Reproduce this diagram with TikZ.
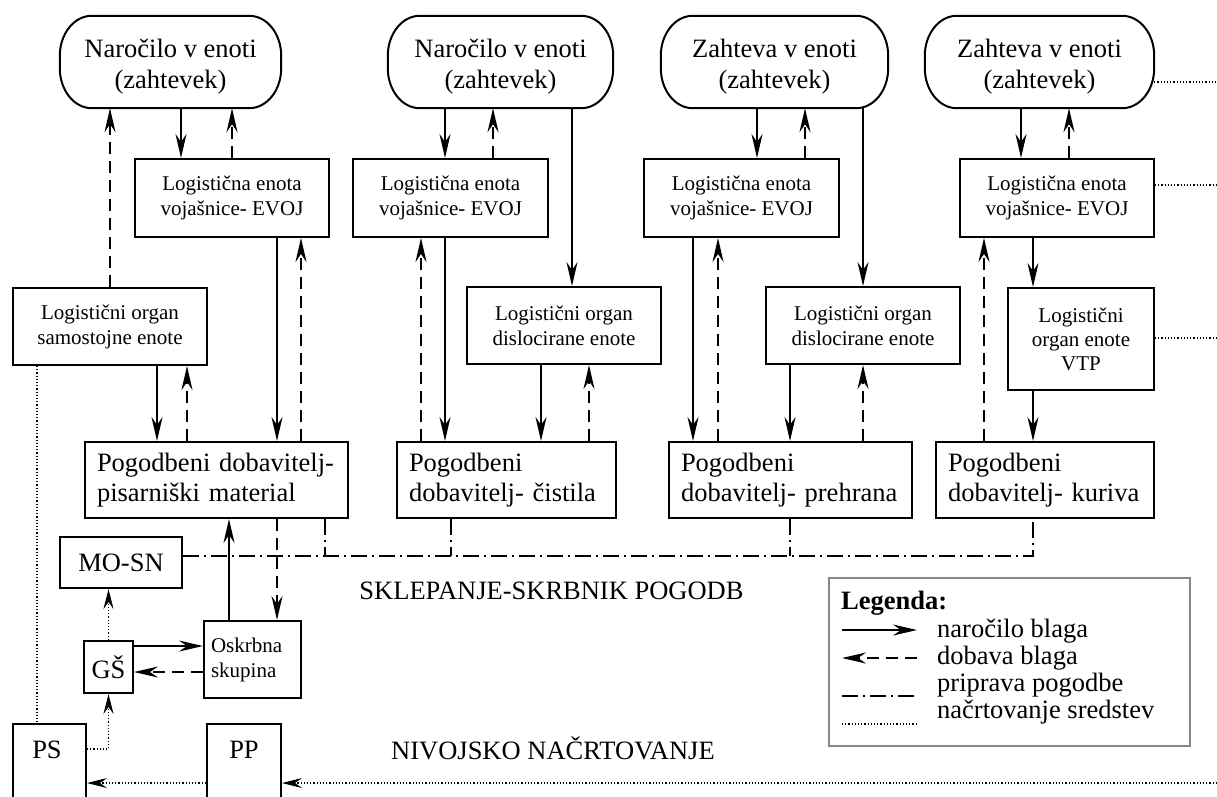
\documentclass[tikz,border=0pt]{standalone}
\usepackage{fontspec}
\setmainfont{Liberation Serif}
\usetikzlibrary{arrows.meta}
\newcommand{\termtext}[2]{\raisebox{-5pt}[\height][\depth]{\begin{tabular}{@{}c@{}}#1\\#2\end{tabular}}}
\begin{document}
\begin{tikzpicture}[x=1pt,y=-1pt,
  box/.style={draw, line width=2pt, inner sep=0pt, align=center},
  term/.style={inner sep=0pt},
  big/.style={font=\fontsize{26.5pt}{31pt}\selectfont},
  small/.style={font=\fontsize{21pt}{25pt}\selectfont},
  order/.style={line width=2pt, -{Stealth[length=24pt,width=11pt,inset=8pt]}},
  supply/.style={line width=2.2pt, dash pattern=on 12pt off 7pt, -{Stealth[length=24pt,width=11pt,inset=8pt]}},
  plan/.style={line width=1.8pt, dash pattern=on 16pt off 5pt on 2pt off 5pt},
  dots/.style={line width=1.1pt, dash pattern=on 1.2pt off 2pt},
  dotarrow/.style={dots, -{Stealth[length=20pt,width=10pt,inset=7pt]}},
]
\path[use as bounding box, fill=white] (0,0) rectangle (1217,796);
\clip (0,0) rectangle (1217,796);

% terminals
\node[term, big, minimum width=221pt, minimum height=92pt] (T1) at (170.5,62) {\termtext{Naročilo v enoti}{(zahtevek)}};
\node[term, big, minimum width=225pt, minimum height=92pt] (T2) at (500.5,62) {\termtext{Naročilo v enoti}{(zahtevek)}};
\node[term, big, minimum width=227pt, minimum height=92pt] (T3) at (774.5,62) {\termtext{Zahteva v enoti}{(zahtevek)}};
\node[term, big, minimum width=229pt, minimum height=92pt] (T4) at (1039.5,62) {\termtext{Zahteva v enoti}{(zahtevek)}};
\foreach \n in {T1,T2,T3,T4}{
  \draw[line width=2pt] ([xshift=32pt]\n.north west) -- ([xshift=-32pt]\n.north east)
    arc[start angle=90,end angle=0,x radius=32pt,y radius=40pt]
    -- ([yshift=40pt]\n.south east)
    arc[start angle=0,end angle=-90,x radius=32pt,y radius=40pt]
    -- ([xshift=32pt]\n.south west)
    arc[start angle=-90,end angle=-180,x radius=32pt,y radius=40pt]
    -- ([yshift=-40pt]\n.north west)
    arc[start angle=180,end angle=90,x radius=32pt,y radius=40pt] -- cycle;
}

% EVOJ boxes
\node[box, small, minimum width=194pt, minimum height=78pt] (E1) at (232,198) {Logistična enota\\vojašnice- EVOJ};
\node[box, small, minimum width=195pt, minimum height=78pt] (E2) at (450.5,198) {Logistična enota\\vojašnice- EVOJ};
\node[box, small, minimum width=195pt, minimum height=78pt] (E3) at (741.5,198) {Logistična enota\\vojašnice- EVOJ};
\node[box, small, minimum width=194pt, minimum height=78pt] (E4) at (1057,198) {Logistična enota\\vojašnice- EVOJ};

% organ boxes
\node[box, small, minimum width=194pt, minimum height=77pt] (S1) at (110,326.5) {Logistični organ\\samostojne enote};
\node[box, small, minimum width=194pt, minimum height=77pt] (D1) at (564,325.5) {Logistični organ\\dislocirane enote};
\node[box, small, minimum width=194pt, minimum height=77pt] (D2) at (863,325.5) {Logistični organ\\dislocirane enote};
\node[box, small, minimum width=146pt, minimum height=102pt, font=\fontsize{21pt}{24pt}\selectfont] (VTP) at (1081,339) {Logistični\\organ enote\\VTP};

% supplier boxes
\node[box, big, align=left, text width=239pt, inner xsep=12pt, minimum height=76pt, font=\fontsize{26.5pt}{30pt}\selectfont] (P1) at (216.5,480) {Pogodbeni dobavitelj-\\pisarniški material};
\node[box, big, align=left, text width=195pt, inner xsep=12pt, minimum height=76pt, font=\fontsize{26.5pt}{30pt}\selectfont] (P2) at (506.5,480) {Pogodbeni\\dobavitelj- čistila};
\node[box, big, align=left, text width=219pt, inner xsep=12pt, minimum height=76pt, font=\fontsize{26.5pt}{30pt}\selectfont] (P3) at (790.5,480) {Pogodbeni\\dobavitelj- prehrana};
\node[box, big, align=left, text width=194pt, inner xsep=12pt, minimum height=76pt, font=\fontsize{26.5pt}{30pt}\selectfont] (P4) at (1045,480) {Pogodbeni\\dobavitelj- kuriva};

% lower left
\node[box, big, minimum width=122pt, minimum height=51pt] (MO) at (121,562.5) {MO-SN};
\node[box, big, minimum width=49pt, minimum height=52pt] (GS) at (108.5,667) {GŠ};
\node[box, small, align=left, text width=83pt, inner xsep=7pt, minimum height=77pt] (OS) at (252.5,659.5) {Oskrbna\\skupina};
\node[box, minimum width=73pt, minimum height=110pt, anchor=north] (PSbox) at (49.5,723) {};
\node[box, minimum width=74pt, minimum height=110pt, anchor=north] (PPbox) at (244,723) {};
\node[big] (PS) at (47,750) {PS};
\node[big] (PP) at (244,750) {PP};

% labels
\node[big] (sklep) at (551.5,591) {SKLEPANJE-SKRBNIK POGODB};
\node[big] (nivo) at (553,748) {NIVOJSKO NAČRTOVANJE};

% column 1
\draw[supply] (S1.north -| 110,0) -- (T1.south -| 110,0);
\draw[order] (T1.south -| 181,0) -- (E1.north -| 181,0);
\draw[supply] (E1.north -| 232,0) -- (T1.south -| 232,0);
\draw[order] (E1.south -| 277,0) -- (P1.north -| 277,0);
\draw[supply] (P1.north -| 301,0) -- (E1.south -| 301,0);
\draw[order] (S1.south -| 157,0) -- (P1.north -| 157,0);
\draw[supply] (P1.north -| 187,0) -- (S1.south -| 187,0);
\draw[dots] (S1.south -| 37,0) -- (PSbox.north -| 37,0);

% column 2
\draw[order] (T2.south -| 445,0) -- (E2.north -| 445,0);
\draw[supply] (E2.north -| 493,0) -- (T2.south -| 493,0);
\draw[order] (T2.south -| 572,0) -- (D1.north -| 572,0);
\draw[order] (E2.south -| 445,0) -- (P2.north -| 445,0);
\draw[supply] (P2.north -| 421,0) -- (E2.south -| 421,0);
\draw[order] (D1.south -| 541,0) -- (P2.north -| 541,0);
\draw[supply] (P2.north -| 589,0) -- (D1.south -| 589,0);

% column 3
\draw[order] (T3.south -| 757,0) -- (E3.north -| 757,0);
\draw[supply] (E3.north -| 805,0) -- (T3.south -| 805,0);
\draw[order] (T3.south -| 863,0) -- (D2.north -| 863,0);
\draw[order] (E3.south -| 693,0) -- (P3.north -| 693,0);
\draw[supply] (P3.north -| 718,0) -- (E3.south -| 718,0);
\draw[order] (D2.south -| 790,0) -- (P3.north -| 790,0);
\draw[supply] (P3.north -| 863,0) -- (D2.south -| 863,0);

% column 4
\draw[order] (T4.south -| 1021,0) -- (E4.north -| 1021,0);
\draw[supply] (E4.north -| 1069,0) -- (T4.south -| 1069,0);
\draw[order] (E4.south -| 1033,0) -- (VTP.north -| 1033,0);
\draw[supply] (P4.north -| 984,0) -- (E4.south -| 984,0);
\draw[order] (VTP.south -| 1033,0) -- (P4.north -| 1033,0);

% planning lines to the right
\coordinate (r1) at (1217,82);
\coordinate (r2) at (1217,185);
\coordinate (r3) at (1217,338);
\coordinate (r4) at (1217,783);
\draw[dots] (T4.east |- r1) -- (r1);
\draw[dots] (E4.east |- r2) -- (r2);
\draw[dots] (VTP.east |- r3) -- (r3);

% contract line
\coordinate (b1) at (325,556);
\coordinate (b2) at (451,556);
\coordinate (b3) at (790,556);
\coordinate (b4) at (1033,556);
\draw[plan] (MO.east |- b1) -- (b4) -- (P4.south -| b4);
\draw[plan] (P1.south -| b1) -- (b1);
\draw[plan] (P2.south -| b2) -- (b2);
\draw[plan] (P3.south -| b3) -- (b3);

% lower left connectors
\draw[order] (OS.north -| 229,0) -- (P1.south -| 229,0);
\draw[supply] (P1.south -| 277,0) -- (OS.north -| 277,0);
\draw[order] (GS.east |- 0,646) -- (OS.west |- 0,646);
\draw[supply] (OS.west |- 0,672) -- (GS.east |- 0,672);
\draw[dotarrow] (GS.north) -- (MO.south -| GS.north);
\draw[dotarrow] (PSbox.east |- 0,749) -| (GS.south);
\draw[dotarrow] (PPbox.west |- r4) -- (PSbox.east |- r4);
\draw[dotarrow] (r4) -- (PPbox.east |- r4);

% legend
\node[draw=black!47, line width=1.6pt, minimum width=361pt, minimum height=168pt, inner sep=0pt] (leg) at (1009.5,662) {};
\node[anchor=west, inner sep=0pt, font=\fontsize{26.5pt}{31pt}\selectfont\bfseries] (legt) at (841,603) {Legenda:};
\coordinate (l1a) at (842,630); \coordinate (l1b) at (917,630);
\coordinate (l2a) at (842,658); \coordinate (l2b) at (917,658);
\coordinate (l3a) at (842,696); \coordinate (l3b) at (917,696);
\coordinate (l4a) at (842,724); \coordinate (l4b) at (917,724);
\draw[order] (l1a) -- (l1b);
\draw[supply] (l2b) -- (l2a);
\draw[plan] (l3a) -- (l3b);
\draw[dots] (l4a) -- (l4b);
\node[big, anchor=west, inner sep=0pt] (lt1) at (937,631) {naročilo blaga};
\node[big, anchor=west, inner sep=0pt] (lt2) at (937,658) {dobava blaga};
\node[big, anchor=west, inner sep=0pt] (lt3) at (937,685) {priprava pogodbe};
\node[big, anchor=west, inner sep=0pt] (lt4) at (937,712) {načrtovanje sredstev};
\end{tikzpicture}
\end{document}
